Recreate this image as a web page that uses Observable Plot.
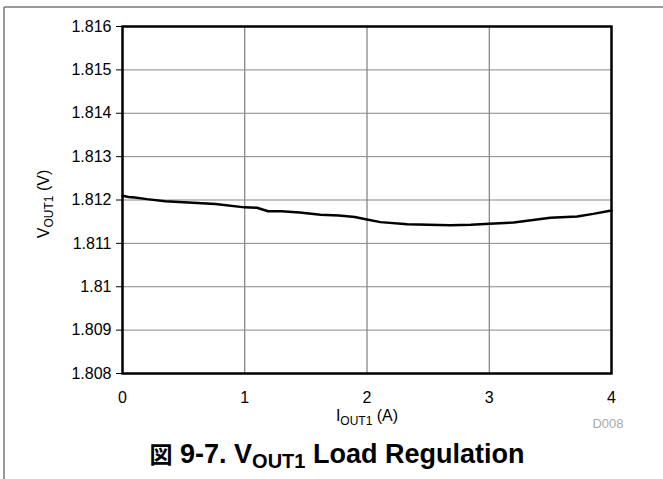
<!DOCTYPE html>
<html>
<head>
<meta charset="utf-8">
<script src="https://cdn.jsdelivr.net/npm/d3@7"></script>
<script src="https://cdn.jsdelivr.net/npm/@observablehq/plot@0.6"></script>
<style>
  html, body { margin: 0; padding: 0; background: #fff; }
  #chart { width: 663px; height: 479px; }
  svg { font-family: "Liberation Sans", Arial, sans-serif; }
</style>
</head>
<body>
<div id="chart"></div>
<script>
// Data
const iout = [0, 0.05, 0.1, 0.2, 0.35, 0.5, 0.76, 1.0, 1.1, 1.19, 1.3, 1.45, 1.62, 1.77, 1.9, 2.0, 2.11, 2.33, 2.5, 2.68, 2.85, 3.0, 3.2, 3.5, 3.72, 3.85, 4.0];
const vout = [1.81210, 1.81207, 1.81206, 1.81202, 1.81197, 1.81195, 1.81191, 1.81183, 1.81182, 1.81174, 1.81174, 1.81171, 1.81166, 1.81164, 1.81161, 1.81155, 1.81149, 1.81144, 1.81143, 1.81142, 1.81143, 1.81145, 1.81148, 1.81159, 1.81162, 1.81168, 1.81176];
const xTicks = [0, 1, 2, 3, 4];
const yTicks = [1.808, 1.809, 1.81, 1.811, 1.812, 1.813, 1.814, 1.815, 1.816];

const rows = iout.map((x, i) => ({x, y: vout[i]}));

const plot = Plot.plot({
  width: 663,
  height: 479,
  marginLeft: 122,
  marginRight: 52,
  marginTop: 26,
  marginBottom: 106,
  style: {fontFamily: "Liberation Sans, Arial, sans-serif", fontSize: "16px", color: "#000", background: "#fff"},
  x: {domain: [0, 4], ticks: xTicks, label: null},
  y: {domain: [1.808, 1.816], ticks: yTicks, label: null},
  marks: [
    Plot.gridX(xTicks, {stroke: "#666", strokeOpacity: 1, strokeWidth: 1}),
    Plot.gridY(yTicks, {stroke: "#888", strokeOpacity: 1, strokeWidth: 1}),
    Plot.axisX(xTicks, {tickSize: 0, tickPadding: 18, fontSize: 16, tickFormat: d => String(d)}),
    Plot.axisY(yTicks, {tickSize: 6, tickPadding: 5, fontSize: 16, tickFormat: d => String(+d.toFixed(3))}),
    Plot.line(rows, {x: "x", y: "y", stroke: "#000", strokeWidth: 2.5}),
    Plot.frame({stroke: "#000", strokeWidth: 2.5})
  ]
});
document.getElementById("chart").appendChild(plot);

const svg = d3.select(plot);
const ff = "Liberation Sans, Arial, sans-serif";

// outer border lines
svg.append("line").attr("x1", 4).attr("x2", 663).attr("y1", 7).attr("y2", 7).attr("stroke", "#777").attr("stroke-width", 1.5);
svg.append("line").attr("x1", 4).attr("x2", 4).attr("y1", 7).attr("y2", 479).attr("stroke", "#777").attr("stroke-width", 1.5);

// x axis label
const xl = svg.append("text").attr("x", 367).attr("y", 421).attr("text-anchor", "middle")
  .attr("font-family", ff).attr("font-size", 16).attr("fill", "#000");
xl.append("tspan").text("I");
xl.append("tspan").attr("font-size", 12).attr("dy", 4).text("OUT1");
xl.append("tspan").attr("dy", -4).text(" (A)");

// y axis label
const yl = svg.append("text").attr("transform", "translate(49,204) rotate(-90)").attr("text-anchor", "middle")
  .attr("font-family", ff).attr("font-size", 16).attr("fill", "#000");
yl.append("tspan").text("V");
yl.append("tspan").attr("font-size", 12).attr("dy", 4).text("OUT1");
yl.append("tspan").attr("dy", -4).text(" (V)");

// figure id
svg.append("text").attr("x", 608).attr("y", 428).attr("font-family", ff).attr("font-size", 13)
  .attr("fill", "#aaa").text("D008");

// title
const t = svg.append("text").attr("x", 337).attr("y", 463).attr("text-anchor", "middle")
  .attr("font-family", ff).attr("font-size", 27).attr("font-weight", "bold").attr("fill", "#000");
t.append("tspan").attr("font-family", "Noto Sans CJK JP").attr("font-size", 23).text("図");
t.append("tspan").text(" 9-7. V");
t.append("tspan").attr("font-size", 20).attr("dy", 5).text("OUT1");
t.append("tspan").attr("dy", -5).text(" Load Regulation");
</script>
</body>
</html>
